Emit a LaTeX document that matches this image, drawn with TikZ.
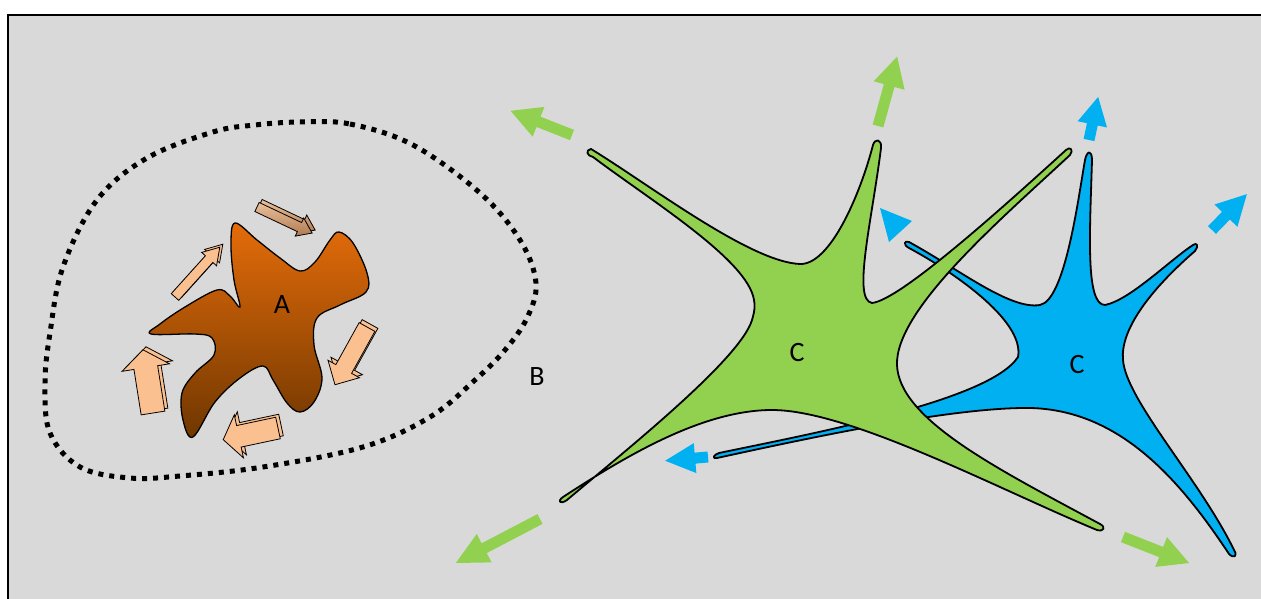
\documentclass[tikz,border=0pt]{standalone}
\usepackage{fontspec}
\setmainfont{Carlito}
\definecolor{bg}{HTML}{D9D9D9}
\definecolor{cgreen}{HTML}{92D050}
\definecolor{cblue}{HTML}{00B0F0}
\definecolor{peach}{HTML}{FAC090}
\definecolor{orangetop}{HTML}{E46C0A}
\definecolor{browndown}{HTML}{6E3600}
\definecolor{tanlight}{HTML}{EBC09A}
\definecolor{tandark}{HTML}{B07A52}
% block arrow: style, x, y, angle, length, shaft half width, head half width, head length
\newcommand\blockarr[8]{%
  \path[#1,shift={(#2,#3)},rotate=#4] (0,-#6) -- ({#5-#8},-#6) -- ({#5-#8},-#7) -- (#5,0)
    -- ({#5-#8},#7) -- ({#5-#8},#6) -- (0,#6) -- cycle;}
\newcommand\peacharr[8]{%
  \blockarr{#1}{#2+3}{#3-3}{#4}{#5}{#6}{#7}{#8}
  \blockarr{#1}{#2}{#3}{#4}{#5}{#6}{#7}{#8}}
\begin{document}
\begin{tikzpicture}[x=1pt,y=-1pt,
  cell/.style={draw=black,line width=1.8pt,line join=round},
  parrow/.style={fill=peach,draw=black,line width=0.8pt,line join=miter},
  tarrow/.style={top color=tanlight,bottom color=tandark,draw=black,line width=0.8pt},
  garrow/.style={fill=cgreen},
  barrowst/.style={fill=cblue},
  lbl/.style={font=\fontsize{28}{32}\selectfont,inner sep=0pt}]
\useasboundingbox (0,0) rectangle (1261,599);
\fill[bg,draw=black,line width=2pt] (8,15) rectangle (1280,620);

% dotted region B
\draw[black,line width=5pt,dash pattern=on 5pt off 6pt]
  plot[smooth cycle,tension=0.6] coordinates {(300,122) (350,124) (413,145) (480,193) (520,240)
  (536,283) (527,318) (505,350) (475,380) (430,417) (363,447) (263,467) (180,476) (130,478)
  (80,467) (50,433) (45,383) (50,333) (63,267) (97,200) (147,158) (213,132) (255,125)};

% blob A
\draw[line width=1.3pt,top color=orangetop,bottom color=browndown]
  plot[smooth cycle,tension=0.6] coordinates {(235,223) (257,240) (280,258) (300,271) (315,262)
  (330,240) (339,232) (353,243) (367,273) (366,292) (340,305) (317,318) (314,345) (322,378)
  (314,402) (300,412) (287,403) (273,380) (263,366) (240,378) (215,402) (193,437) (183,420)
  (182,393) (195,373) (214,355) (212,338) (195,334) (151,334) (160,324) (185,307) (217,290)
  (230,296) (240,307) (234,280) (231,245)};

% small arrows around A
\peacharr{tarrow}{257}{207}{-25.3}{61}{5}{10}{14}
\peacharr{parrow}{175}{297}{48}{67}{5}{10}{16}
\peacharr{parrow}{153}{413}{99}{64}{12}{24}{18}
\peacharr{parrow}{278}{428}{192}{56}{11}{22}{16}
\peacharr{parrow}{367}{327}{241}{66}{9}{18}{18}

% blue cell
\path[cell,fill=cblue] (909,242) .. controls (960,270) and (1010,310) .. (1040,305)
  .. controls (1065,300) and (1078,200) .. (1085,160)
  .. controls (1087,150) and (1092,150) .. (1092,160)
  .. controls (1090,230) and (1085,305) .. (1105,305)
  .. controls (1130,300) and (1170,260) .. (1193,245)
  .. controls (1197,242) and (1199,246) .. (1195,251)
  .. controls (1150,290) and (1120,330) .. (1123,360)
  .. controls (1126,400) and (1200,480) .. (1234,550)
  .. controls (1238,556) and (1234,559) .. (1229,554)
  .. controls (1180,480) and (1120,410) .. (1030,408)
  .. controls (950,407) and (800,440) .. (717,458)
  .. controls (712,459) and (713,455) .. (719,453)
  .. controls (820,432) and (990,400) .. (1018,357)
  .. controls (1025,320) and (950,270) .. (909,248)
  .. controls (903,245) and (904,240) .. (909,242) -- cycle;

% green cell
\path[cell,fill=cgreen] (591,149) .. controls (650,185) and (750,262) .. (800,264)
  .. controls (830,265) and (860,195) .. (873,145)
  .. controls (875,138) and (882,139) .. (881,148)
  .. controls (872,220) and (852,300) .. (872,303)
  .. controls (900,300) and (1000,210) .. (1066,150)
  .. controls (1070,146) and (1074,150) .. (1070,155)
  .. controls (1000,220) and (895,310) .. (897,365)
  .. controls (899,420) and (1000,470) .. (1100,524)
  .. controls (1106,527) and (1104,532) .. (1097,530)
  .. controls (1000,490) and (850,410) .. (772,410)
  .. controls (700,410) and (620,460) .. (563,497)
  .. controls (557,501) and (560,505) .. (567,500)
  .. controls (620,455) and (740,360) .. (752,320)
  .. controls (755,310) and (755,305) .. (754,300)
  .. controls (748,260) and (650,200) .. (593,157)
  .. controls (587,156) and (585,150) .. (591,149) -- cycle;

% green arrows
\blockarr{garrow}{572}{135}{158.5}{66}{5.5}{16}{30}
\blockarr{garrow}{878}{126}{74.6}{72}{5.5}{16}{30}
\blockarr{garrow}{540}{519}{207.6}{95}{5.5}{16}{32}
\blockarr{garrow}{1123}{537}{-21.5}{71}{5.5}{16}{30}

% blue arrows
\blockarr{barrowst}{1089}{140}{78}{44}{5.5}{15}{28}
\blockarr{barrowst}{1212}{230}{45.8}{50}{5.5}{16}{30}
\blockarr{barrowst}{708}{457}{185}{43}{5.5}{15}{30}
\fill[cblue] (880,208) -- (912,221) -- (889,242) -- cycle;

% labels
\node[lbl] (la) at (282,305) {A};
\node[lbl] (lb) at (537,377) {B};
\node[lbl] (lc1) at (797,353) {C};
\node[lbl] (lc2) at (1077,365) {C};
\end{tikzpicture}
\end{document}
